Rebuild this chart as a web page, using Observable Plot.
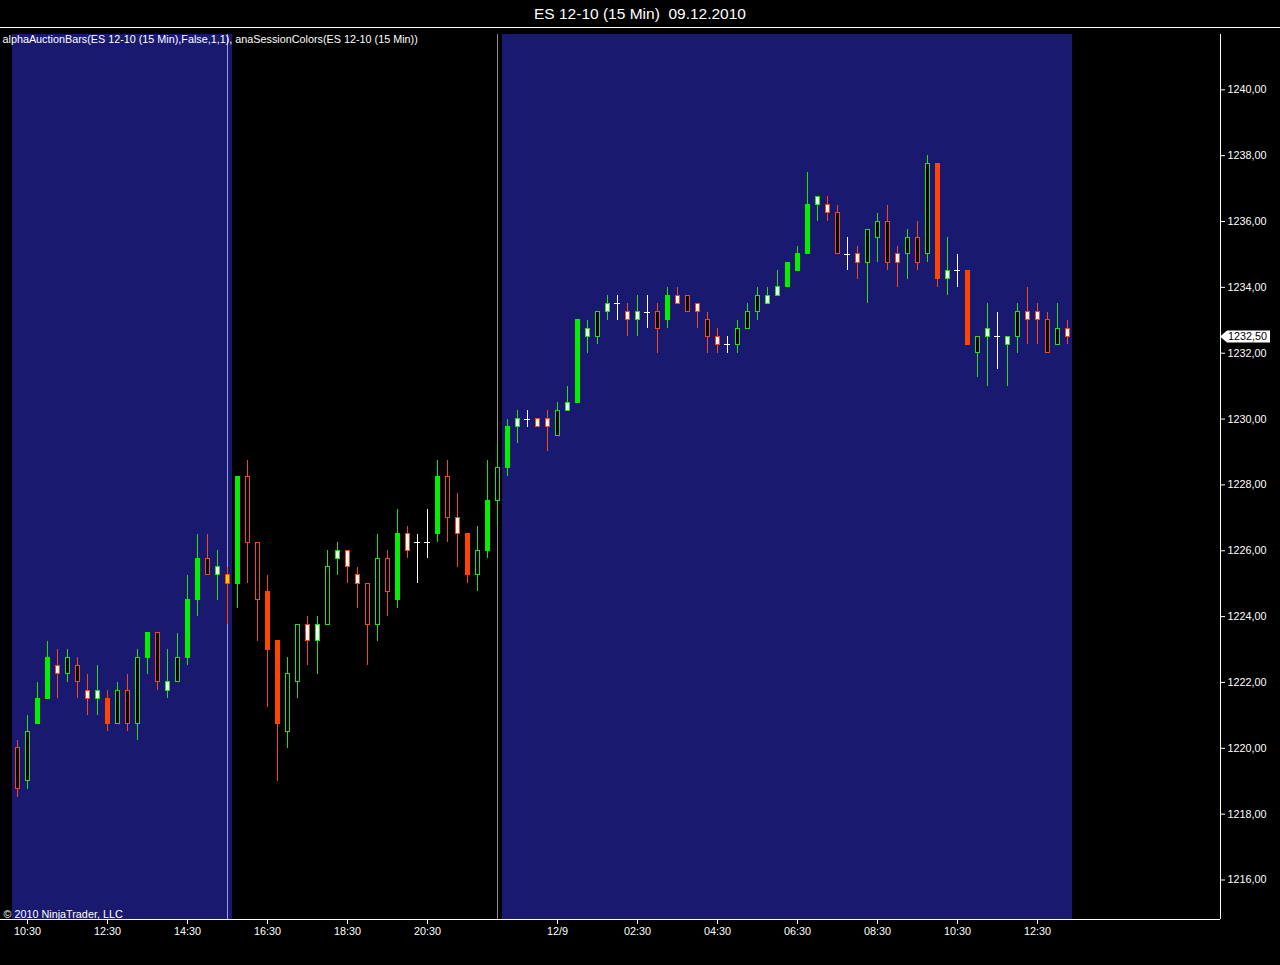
<!DOCTYPE html>
<html><head><meta charset="utf-8">
<script src="https://cdn.jsdelivr.net/npm/d3@7"></script>
<script src="https://cdn.jsdelivr.net/npm/@observablehq/plot@0.6"></script>
<style>
html,body{margin:0;padding:0;background:#000;overflow:hidden;}
#title{height:27px;border-bottom:1px solid #fff;color:#fff;font:15.5px "Liberation Sans",Arial,sans-serif;line-height:27px;text-align:center;white-space:pre;}
#chart svg{display:block;}
</style></head><body>
<div id="title">ES 12-10 (15 Min)  09.12.2010</div>
<div id="chart"></div>
<script>
// bar style codes: gh green hollow, gs green solid, gw green/white, rh red hollow, rs red solid, rw red/white, y yellow, d doji
const styles = ["rh","gh","gs","gs","rw","gh","rh","rw","gw","rs","gh","rh","gh","gs","rh","gw","gh","gs","gs","rh","gw","y",
"gs","rh","rh","rs","rs","gh","gh","rw","gw","gh","gw","rw","rw","rh","gh","rh","gs","rw","d","d","gs","rh","rw","rs","gh","gs","gh",
"gs","gw","d","rw","rw","gh","gw","gs","gw","gh","gw","d","rw","gw","d","rh","gs","rw","rh","rw","rh","rw","d","gh","gh","gh","gw","gw",
"gs","gs","gs","gw","rw","rh","d","rw","gh","gh","rh","rw","gh","rh","gh","rs","gw","d","rs","gh","gw","d","gw","gh","rw","rw","rh","gh","rw"];
const opens = [1220.0,1219.0,1220.75,1221.5,1222.5,1222.25,1222.5,1221.75,1221.5,1221.5,1220.75,1221.75,1220.75,1222.75,1223.5,1221.75,1222.0,1222.75,1224.5,1225.75,1225.25,1225.25,
1225.0,1228.25,1226.25,1224.75,1223.25,1220.5,1222.0,1223.75,1223.25,1223.75,1225.75,1226.0,1225.25,1225.0,1223.75,1225.75,1224.5,1226.5,1226.25,1226.25,1226.5,1228.25,1227.0,1226.5,1225.25,1226.0,1227.5,
1228.5,1229.75,1230.0,1230.0,1230.0,1229.5,1230.25,1230.5,1232.5,1232.5,1233.25,1233.5,1233.25,1233.0,1233.25,1233.25,1233.0,1233.75,1233.75,1233.5,1233.0,1232.5,1232.25,1232.25,1232.75,1233.25,1233.5,1233.75,
1234.0,1234.5,1235.0,1236.5,1236.5,1236.25,1235.0,1235.0,1234.75,1235.5,1236.0,1235.0,1235.0,1235.5,1235.0,1237.75,1234.25,1234.5,1234.5,1232.0,1232.5,1232.5,1232.25,1232.5,1233.25,1233.25,1233.0,1232.25,1232.75];
const highs = [1220.25,1221.0,1222.0,1223.25,1223.0,1223.0,1222.75,1222.25,1222.5,1221.75,1222.0,1222.25,1223.0,1223.5,1223.5,1223.0,1223.5,1225.25,1226.5,1226.5,1226.0,1225.5,
1228.25,1228.75,1226.25,1225.25,1223.25,1222.75,1223.75,1224.0,1224.0,1226.0,1226.25,1226.0,1225.5,1225.0,1226.5,1226.0,1227.25,1226.75,1226.5,1227.25,1228.75,1228.75,1227.75,1226.5,1226.75,1228.75,1229.25,
1230.0,1230.25,1230.25,1230.0,1230.25,1230.5,1231.0,1233.0,1233.0,1233.25,1233.75,1233.75,1233.5,1233.75,1233.75,1233.5,1234.0,1234.0,1233.75,1233.5,1233.25,1232.75,1232.5,1233.0,1233.5,1234.0,1234.0,1234.5,
1234.75,1235.25,1237.5,1236.75,1236.75,1236.5,1235.5,1235.25,1235.75,1236.25,1236.5,1235.25,1235.75,1236.0,1238.0,1237.75,1235.5,1235.0,1234.5,1232.5,1233.5,1233.25,1232.5,1233.5,1234.0,1233.5,1233.25,1233.5,1233.0];
const lows = [1218.5,1218.75,1220.75,1221.5,1221.5,1222.0,1221.5,1221.0,1221.0,1220.5,1220.75,1220.5,1220.25,1222.25,1221.75,1221.5,1222.0,1222.5,1224.0,1225.25,1224.5,1223.75,
1224.25,1225.0,1223.25,1221.25,1219.0,1220.0,1221.5,1222.5,1222.25,1223.75,1225.25,1225.0,1224.25,1222.5,1223.25,1224.0,1224.25,1225.75,1225.0,1225.75,1226.25,1226.25,1225.5,1225.0,1224.75,1225.75,1226.75,
1228.25,1229.25,1229.75,1229.75,1229.0,1229.5,1230.25,1230.5,1232.0,1232.25,1233.0,1233.0,1232.5,1232.5,1232.75,1232.0,1232.75,1233.5,1233.25,1232.75,1232.0,1232.0,1232.0,1232.0,1232.75,1233.0,1233.5,1233.75,
1234.0,1234.5,1235.0,1236.0,1236.0,1235.0,1234.5,1234.25,1233.5,1234.75,1234.5,1234.0,1234.25,1234.5,1234.75,1234.0,1233.75,1234.0,1232.25,1231.25,1231.0,1231.5,1231.0,1232.0,1232.25,1232.25,1232.0,1232.25,1232.25];
const closes = [1218.75,1220.5,1221.5,1222.75,1222.25,1222.75,1222.0,1221.5,1221.75,1220.75,1221.75,1220.75,1222.75,1223.5,1222.0,1222.0,1222.75,1224.5,1225.75,1225.25,1225.5,1225.0,
1228.25,1226.25,1224.5,1223.0,1220.75,1222.25,1223.75,1223.25,1223.75,1225.5,1226.0,1225.5,1225.0,1223.75,1225.75,1224.75,1226.5,1226.0,1226.25,1226.25,1228.25,1227.0,1226.5,1225.25,1226.0,1227.5,1228.5,
1229.75,1230.0,1230.0,1229.75,1229.75,1230.25,1230.5,1233.0,1232.75,1233.25,1233.5,1233.5,1233.0,1233.25,1233.25,1232.75,1233.75,1233.5,1233.25,1233.25,1232.5,1232.25,1232.25,1232.75,1233.25,1233.75,1233.75,1234.0,
1234.75,1235.0,1236.5,1236.75,1236.25,1235.0,1235.0,1234.75,1235.75,1236.0,1234.75,1234.75,1235.5,1234.75,1237.75,1234.25,1234.5,1234.5,1232.25,1232.5,1232.75,1232.5,1232.5,1233.25,1233.0,1233.0,1232.0,1232.75,1232.5];

// session segments (bar indices) and their kinds
const sessionStart = [0, 22, 49];
const sessionEnd = [21, 48, 105];
const sessionKind = ["day", "night", "day"];
const sessionBreaks = [21, 48];
const breakKind = ["close", "open"];

// x axis tick labels (bar index -> label)
const tickBars = [1, 9, 17, 25, 33, 41, 54, 62, 70, 78, 86, 94, 102];
const tickLabels = ["10:30","12:30","14:30","16:30","18:30","20:30","12/9","02:30","04:30","06:30","08:30","10:30","12:30"];
const priceTicks = [1216,1218,1220,1222,1224,1226,1228,1230,1232,1234,1236,1238,1240];

const indicatorText = "alphaAuctionBars(ES 12-10 (15 Min),False,1,1), anaSessionColors(ES 12-10 (15 Min))";
const copyrightText = "© 2010 NinjaTrader, LLC";

const GREEN_S = "#00f000", GREEN_O = "#22dd22", RED_S = "#ff4500", RED_O = "#f04a24";
const fillOf = {gh:"#000", gs:GREEN_S, gw:"#f2fff2", rh:"#000", rs:RED_S, rw:"#fff6f2", y:"#ffd000"};
const strokeOf = {gh:GREEN_O, gs:GREEN_S, gw:GREEN_O, rh:RED_O, rs:RED_S, rw:RED_O, y:RED_S, d:"#ffffff"};
const wickOf = {gh:GREEN_O, gs:GREEN_S, gw:GREEN_O, rh:RED_O, rs:RED_S, rw:RED_O, y:RED_S, d:"#ffffff"};
const styleCodes = ["gh","gs","gw","rh","rs","rw","y","d"];

const bars = opens.map((o, i) => ({
  i, o, h: highs[i], l: lows[i], c: closes[i], s: styles[i],
  lo: Math.min(o, closes[i]), hi: Math.max(o, closes[i])
}));
const sessions = sessionStart.map((s, k) => ({s, e: sessionEnd[k], kind: sessionKind[k]}));
const breaks = sessionBreaks.map((b, k) => ({b, kind: breakKind[k]}));
const lastClose = closes[closes.length - 1];
const fmtPrice = v => v.toFixed(2).replace(".", ",");
const FONT = '"Liberation Sans", Arial, sans-serif';
const FS = "10.8px";
const CRISP = "crispEdges";

function priceMarker(index, scales, values, dimensions) {
  const y = Math.round(scales.y(lastClose)) + 0.5;
  const x0 = dimensions.width - dimensions.marginRight;
  const g = d3.create("svg:g");
  g.append("path")
    .attr("d", `M${x0},${y} L${x0 + 7},${y - 6} L${x0 + 50},${y - 6} L${x0 + 50},${y + 6} L${x0 + 7},${y + 6} Z`)
    .attr("fill", "#fff");
  g.append("text")
    .attr("x", x0 + 8).attr("y", y).attr("dy", "0.35em")
    .attr("text-anchor", "start")
    .attr("fill", "#000").attr("font-family", FONT).attr("font-size", FS)
    .text(fmtPrice(lastClose));
  return g.node();
}

const candleMarks = [];
for (const code of styleCodes) {
  const sub = bars.filter(d => d.s === code);
  candleMarks.push(Plot.ruleX(sub, {x: "i", y1: "l", y2: "h", stroke: wickOf[code], strokeWidth: 1, shapeRendering: CRISP}));
  if (code === "d") {
    candleMarks.push(Plot.ruleY(sub, {x1: d => d.i - 0.3, x2: d => d.i + 0.3, y: "c", stroke: strokeOf[code], strokeWidth: 1, shapeRendering: CRISP}));
  } else {
    candleMarks.push(Plot.rect(sub, {x1: d => d.i - 0.2, x2: d => d.i + 0.2, y1: "lo", y2: "hi",
      fill: fillOf[code], stroke: strokeOf[code], strokeWidth: 1, shapeRendering: CRISP}));
  }
}

const chart = Plot.plot({
  width: 1280, height: 937,
  marginTop: 6, marginBottom: 46, marginLeft: 0, marginRight: 60,
  style: {background: "#000", color: "#fff", fontFamily: FONT, fontSize: FS},
  x: {domain: [-1.7, 120.3], axis: null},
  y: {domain: [1214.80, 1241.68], axis: null},
  marks: [
    Plot.rect(sessions.filter(d => d.kind === "day"), {x1: d => d.s - 0.5, x2: d => d.e + 0.5, fill: "#191970", shapeRendering: CRISP}),
    Plot.ruleX(breaks.filter(d => d.kind === "close"), {x: "b", stroke: "#9c9ce6", strokeWidth: 1, shapeRendering: CRISP}),
    Plot.ruleX(breaks.filter(d => d.kind === "open"), {x: "b", stroke: "#8c8c8c", strokeWidth: 1, shapeRendering: CRISP}),
    ...candleMarks,
    Plot.ruleY([1214.80], {stroke: "#fff", shapeRendering: CRISP}),
    Plot.ruleX([120.3], {stroke: "#fff", shapeRendering: CRISP}),
    Plot.axisY({anchor: "right", ticks: priceTicks, tickFormat: fmtPrice, tickSize: 4, tickPadding: 3, label: null, fill: "#fff", stroke: "#fff"}),
    Plot.axisX({anchor: "bottom", ticks: tickBars, tickFormat: d => tickLabels[tickBars.indexOf(d)], tickSize: 5, tickPadding: 3, label: null, fill: "#fff", stroke: "#fff"}),
    Plot.text([indicatorText], {frameAnchor: "top-left", textAnchor: "start", lineAnchor: "top", dx: 2, dy: 1, fill: "#fff"}),
    Plot.text([copyrightText], {frameAnchor: "bottom-left", textAnchor: "start", lineAnchor: "bottom", dx: 3, dy: -2, fill: "#fff"}),
    priceMarker
  ]
});
document.getElementById("chart").appendChild(chart);
</script>
</body></html>
